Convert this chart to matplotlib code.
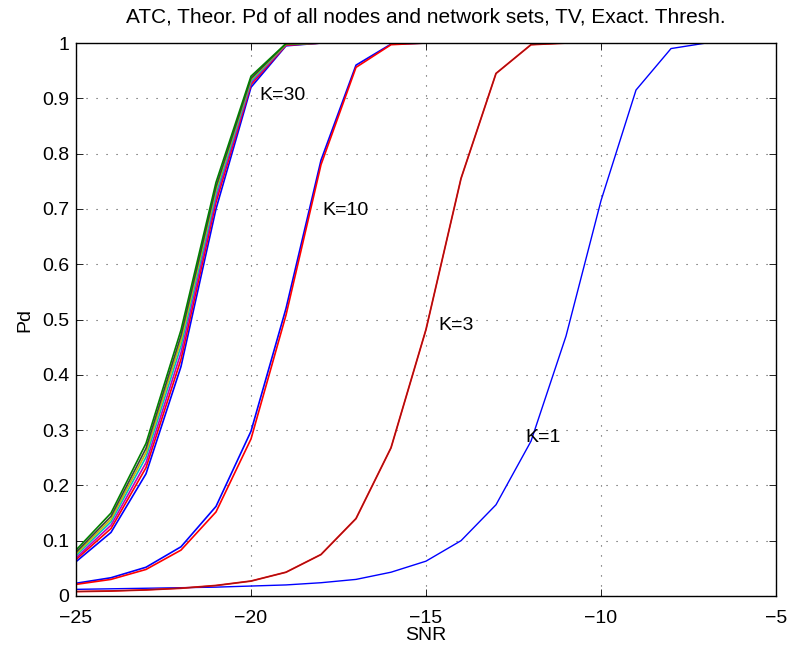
import matplotlib.pyplot as plt

plt.rcParams.update({
    "font.family": ["Liberation Sans", "DejaVu Sans"],
    "font.size": 14,
    "axes.linewidth": 1.0,
    "lines.linewidth": 1.0,
})

snr = list(range(-25, -4))

# K=30: one curve per node / network set (bundle)
k30_colors = ["#0000ff", "#ff0000", "#bf00bf", "#00bfbf", "#bfbf00", "#404040", "#008000"]
k30_curves = [
    [0.062, 0.115, 0.221, 0.415, 0.700, 0.920, 0.995, 1.0, 1.0, 1.0, 1.0, 1.0, 1.0, 1.0, 1.0, 1.0, 1.0, 1.0, 1.0, 1.0, 1.0],
    [0.066, 0.122, 0.232, 0.428, 0.712, 0.925, 0.996, 1.0, 1.0, 1.0, 1.0, 1.0, 1.0, 1.0, 1.0, 1.0, 1.0, 1.0, 1.0, 1.0, 1.0],
    [0.069, 0.128, 0.241, 0.440, 0.720, 0.928, 0.997, 1.0, 1.0, 1.0, 1.0, 1.0, 1.0, 1.0, 1.0, 1.0, 1.0, 1.0, 1.0, 1.0, 1.0],
    [0.073, 0.134, 0.251, 0.452, 0.728, 0.931, 0.998, 1.0, 1.0, 1.0, 1.0, 1.0, 1.0, 1.0, 1.0, 1.0, 1.0, 1.0, 1.0, 1.0, 1.0],
    [0.076, 0.139, 0.259, 0.462, 0.735, 0.934, 0.998, 1.0, 1.0, 1.0, 1.0, 1.0, 1.0, 1.0, 1.0, 1.0, 1.0, 1.0, 1.0, 1.0, 1.0],
    [0.079, 0.144, 0.267, 0.471, 0.740, 0.936, 0.999, 1.0, 1.0, 1.0, 1.0, 1.0, 1.0, 1.0, 1.0, 1.0, 1.0, 1.0, 1.0, 1.0, 1.0],
    [0.083, 0.150, 0.276, 0.481, 0.748, 0.940, 0.999, 1.0, 1.0, 1.0, 1.0, 1.0, 1.0, 1.0, 1.0, 1.0, 1.0, 1.0, 1.0, 1.0, 1.0],
]

# K=10
k10_colors = ["#0000ff", "#ff0000"]
k10_curves = [
    [0.023, 0.033, 0.052, 0.089, 0.162, 0.298, 0.520, 0.788, 0.960, 0.998, 1.0, 1.0, 1.0, 1.0, 1.0, 1.0, 1.0, 1.0, 1.0, 1.0, 1.0],
    [0.021, 0.030, 0.048, 0.083, 0.152, 0.284, 0.508, 0.780, 0.956, 0.997, 1.0, 1.0, 1.0, 1.0, 1.0, 1.0, 1.0, 1.0, 1.0, 1.0, 1.0],
]

# K=3
k3_colors = ["#ff0000", "#9a1515"]
k3_widths = [1.3, 0.8]
k3_curves = [
    [0.008, 0.009, 0.011, 0.014, 0.019, 0.027, 0.043, 0.075, 0.140, 0.268, 0.482, 0.755, 0.945, 0.997, 1.0, 1.0, 1.0, 1.0, 1.0, 1.0, 1.0],
    [0.008, 0.009, 0.011, 0.014, 0.019, 0.027, 0.043, 0.075, 0.140, 0.268, 0.482, 0.755, 0.945, 0.997, 1.0, 1.0, 1.0, 1.0, 1.0, 1.0, 1.0],
]

# K=1
k1_colors = ["#0000ff"]
k1_curves = [
    [0.012, 0.013, 0.014, 0.015, 0.016, 0.018, 0.020, 0.024, 0.030, 0.043, 0.063, 0.100, 0.165, 0.280, 0.470, 0.715, 0.915, 0.990, 1.0, 1.0, 1.0],
]

labels = ["K=30", "K=10", "K=3", "K=1"]
label_x = [-19.75, -17.95, -14.65, -12.15]
label_y = [0.905, 0.698, 0.490, 0.287]

fig = plt.figure(figsize=(7.9, 6.54), dpi=100)
ax = fig.add_axes([0.0962, 0.0887, 0.8861, 0.8455])

for c, y in zip(k1_colors, k1_curves):
    ax.plot(snr, y, color=c, linewidth=1.0)
for c, w, y in zip(k3_colors, k3_widths, k3_curves):
    ax.plot(snr, y, color=c, linewidth=w)
for c, y in zip(k10_colors, k10_curves):
    ax.plot(snr, y, color=c, linewidth=1.2)
for c, y in zip(k30_colors, k30_curves):
    ax.plot(snr, y, color=c, linewidth=1.2)

for t, x, y in zip(labels, label_x, label_y):
    ax.text(x, y, t, fontsize=14, va="center", ha="left")

ax.set_xlim(-25, -5)
ax.set_ylim(0, 1)
ax.set_xticks([-25, -20, -15, -10, -5])
ax.set_xticklabels(["\u221225", "\u221220", "\u221215", "\u221210", "\u22125"])
ax.set_yticks([i / 10 for i in range(11)])
ax.set_yticklabels(["0", "0.1", "0.2", "0.3", "0.4", "0.5", "0.6", "0.7", "0.8", "0.9", "1"])
ax.tick_params(direction="in", top=True, right=True, length=5, width=0.6, labelsize=14)
ax.tick_params(axis="x", pad=10)
ax.tick_params(axis="y", pad=5)
ax.grid(True, color="0.3", linestyle=(0, (1, 8)), linewidth=0.8)

ax.set_title("ATC, Theor. Pd of all nodes and network sets, TV, Exact. Thresh.", fontsize=15, pad=15)
ax.set_xlabel("SNR", fontsize=14, labelpad=0)
ax.set_ylabel("Pd", fontsize=14, labelpad=6)

fig.savefig("out.png", dpi=100)
